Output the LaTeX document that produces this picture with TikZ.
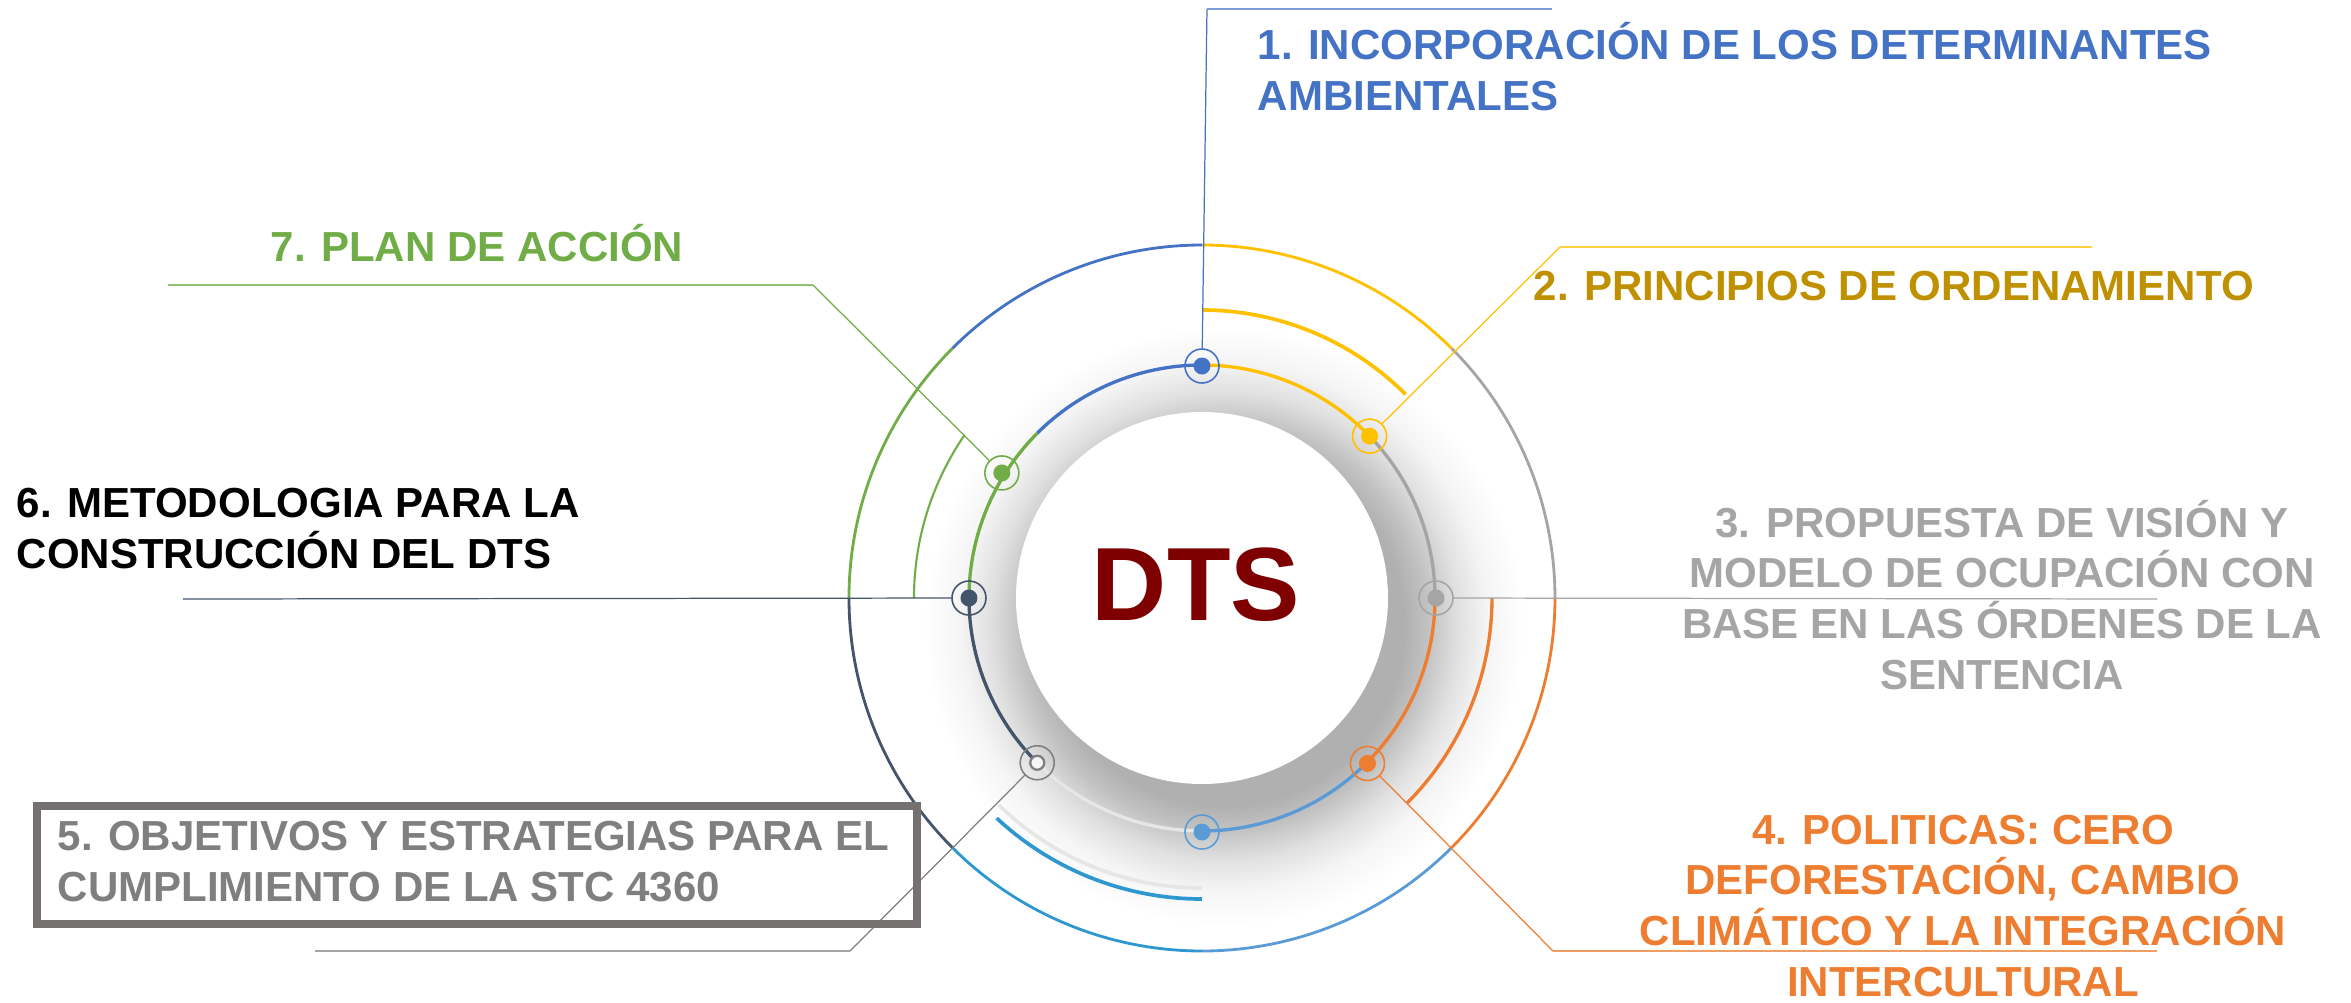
\documentclass[tikz,border=0pt]{standalone}
\usepackage{fontspec}
\setmainfont{Liberation Sans}
\usetikzlibrary{positioning}

\definecolor{dtsblue}{HTML}{4472C4}
\definecolor{dtsyellow}{HTML}{FFC000}
\definecolor{dtsgold}{HTML}{BF9000}
\definecolor{dtsgray}{HTML}{A5A5A5}
\definecolor{dtsorange}{HTML}{ED7D31}
\definecolor{dtslight}{HTML}{5B9BD5}
\definecolor{dtscyan}{HTML}{2E97CF}
\definecolor{dtsnavy}{HTML}{44546A}
\definecolor{dtsgreen}{HTML}{70AD47}
\definecolor{dtsdim}{HTML}{7F7F7F}
\definecolor{dtsbox}{HTML}{767171}
\definecolor{dtsred}{HTML}{7F0000}
\definecolor{dtsshade}{HTML}{E7E6E6}

\pgfdeclareradialshading{dtsshadow}{\pgfpoint{0bp}{0bp}}{color(0bp)=(black!32); color(15bp)=(black!31); color(17bp)=(black!24); color(19.5bp)=(black!12); color(22bp)=(black!4); color(25bp)=(white); color(50bp)=(white)}

\begin{document}
\begin{tikzpicture}[x=0.01cm, y=0.01cm]

  % Styles
  \tikzset{
    outer/.style={line width=0.8pt},
    inner/.style={line width=0.95pt},
    mid/.style={line width=1.05pt},
    lead/.style={line width=0.35pt},
    shelf/.style={line width=0.55pt},
    marker/.style={circle, draw=#1, line width=0.45pt, minimum size=0.34cm, inner sep=0pt,
      path picture={\fill[#1] (path picture bounding box.center) circle (8.5);}},
    hollow/.style={circle, draw=#1, line width=0.45pt, minimum size=0.34cm, inner sep=0pt,
      path picture={\draw[#1, line width=0.65pt, fill=black!4] (path picture bounding box.center) circle (7);}},
    itemtext/.style={font=\fontsize{11.95}{14.4}\selectfont\bfseries, inner sep=0pt}
  }

  \useasboundingbox (-1202,-404) rectangle (1149,598);

  % Shadow and central disc
  \shade[shading=dtsshadow] (22,-28) circle (300);
  \fill[white] (0,0) circle (186);
  \node[font=\fontsize{29.6}{30}\selectfont\bfseries, text=dtsred, inner sep=0pt] (dts) at (-6,13) {DTS};

  % Outer ring
  \foreach \a/\b/\c in {0/45/dtsgray, 45/90/dtsyellow, 90/135/dtsblue, 135/180/dtsgreen,
                        180/225/dtsnavy, 225/270/dtscyan, 270/315/dtslight, 315/360/dtsorange}
    \draw[outer, \c] (\a:353) arc[start angle=\a, end angle=\b, radius=353];

  % Inner ring
  \foreach \a/\b/\c in {0/45/dtsgray, 45/90/dtsyellow, 90/135/dtsblue, 135/180/dtsgreen,
                        180/225/dtsnavy, 225/270/dtsshade, 270/315/dtslight, 315/360/dtsorange}
    \draw[inner, \c] (\a:233) arc[start angle=\a, end angle=\b, radius=233];

  % Middle arcs
  \draw[mid, dtsyellow] (45:288) arc[start angle=45, end angle=90, radius=288];
  \draw[mid, dtsgreen, line width=0.6pt] (145.5:288) arc[start angle=145.5, end angle=180, radius=288];
  \draw[mid, dtsorange, line width=0.95pt] (-45:290) arc[start angle=-45, end angle=0, radius=290];
  \draw[mid, dtsshade] (-134.5:290) arc[start angle=-134.5, end angle=-90, radius=290];
  \draw[mid, dtscyan] (-133:301) arc[start angle=-133, end angle=-90, radius=301];

  % Markers on the inner ring
  \node[marker=dtsblue] (m1) at (90:232) {};
  \node[marker=dtsyellow] (m2) at (44:233) {};
  \node[marker=dtsgray] (m3) at (0:234) {};
  \node[marker=dtsorange] (m4) at (-45:234) {};
  \node[hollow=dtsdim] (m5) at (-135:233) {};
  \node[marker=dtsnavy] (m6) at (180:233) {};
  \node[marker=dtsgreen] (m7) at (148:236) {};
  \node[marker=dtslight] (mlow) at (-90:234) {};

  % Leader lines
  \coordinate (k1) at (5,589);   \coordinate (e1) at (350,589);
  \coordinate (k2) at (358,351); \coordinate (e2) at (890,351);
  \coordinate (e3) at (955,-1);
  \coordinate (k4) at (351,-353); \coordinate (e4) at (955,-353);
  \coordinate (k5) at (-352,-353); \coordinate (e5) at (-887,-353);
  \coordinate (e6) at (-1019,-1);
  \coordinate (k7) at (-389,313); \coordinate (e7) at (-1034,313);

  \draw[lead, dtsblue] (m1) -- (k1);
  \draw[shelf, dtsblue!70] (k1) -- (e1);
  \draw[lead, dtsyellow] (m2) -- (k2);
  \draw[shelf, dtsyellow!75] (k2) -- (e2);
  \draw[lead, dtsgray] (m3) -- (e3);
  \draw[lead, dtsorange] (m4) -- (k4);
  \draw[shelf, dtsorange!75] (k4) -- (e4);
  \draw[lead, dtsdim] (m5) -- (k5);
  \draw[shelf, dtsdim!70] (k5) -- (e5);
  \draw[lead, dtsnavy] (m6) -- (e6);
  \draw[lead, dtsgreen] (m7) -- (k7);
  \draw[shelf, dtsgreen!75] (k7) -- (e7);

  % Texts (base = baseline of the last line)
  \node[itemtext, text=dtsblue, anchor=base west, align=left] (t1) at (55,488)
    {1. INCORPORACIÓN DE LOS DETERMINANTES\\AMBIENTALES};
  \node[itemtext, text=dtsgold, anchor=base west] (t2) at (331,298)
    {2. PRINCIPIOS DE ORDENAMIENTO};
  \node[itemtext, text=dtsgray, anchor=base, align=center] (t3) at (800,-91)
    {3. PROPUESTA DE VISIÓN Y\\MODELO DE OCUPACIÓN CON\\BASE EN LAS ÓRDENES DE LA\\SENTENCIA};
  \node[itemtext, text=dtsorange, anchor=base, align=center] (t4) at (761,-398)
    {4. POLITICAS: CERO\\DEFORESTACIÓN, CAMBIO\\CLIMÁTICO Y LA INTEGRACIÓN\\INTERCULTURAL};
  \node[itemtext, text=dtsdim, anchor=base west, align=left] (t5) at (-1145,-303)
    {5. OBJETIVOS Y ESTRATEGIAS PARA EL\\CUMPLIMIENTO DE LA STC 4360};
  \draw[dtsbox, line width=2.3pt] (-1165,-208) rectangle (-285,-326);
  \node[itemtext, text=black, anchor=base west, align=left] (t6) at (-1186,30)
    {6. METODOLOGIA PARA LA\\CONSTRUCCIÓN DEL DTS};
  \node[itemtext, text=dtsgreen, anchor=base west] (t7) at (-932,337)
    {7. PLAN DE ACCIÓN};

\end{tikzpicture}
\end{document}
